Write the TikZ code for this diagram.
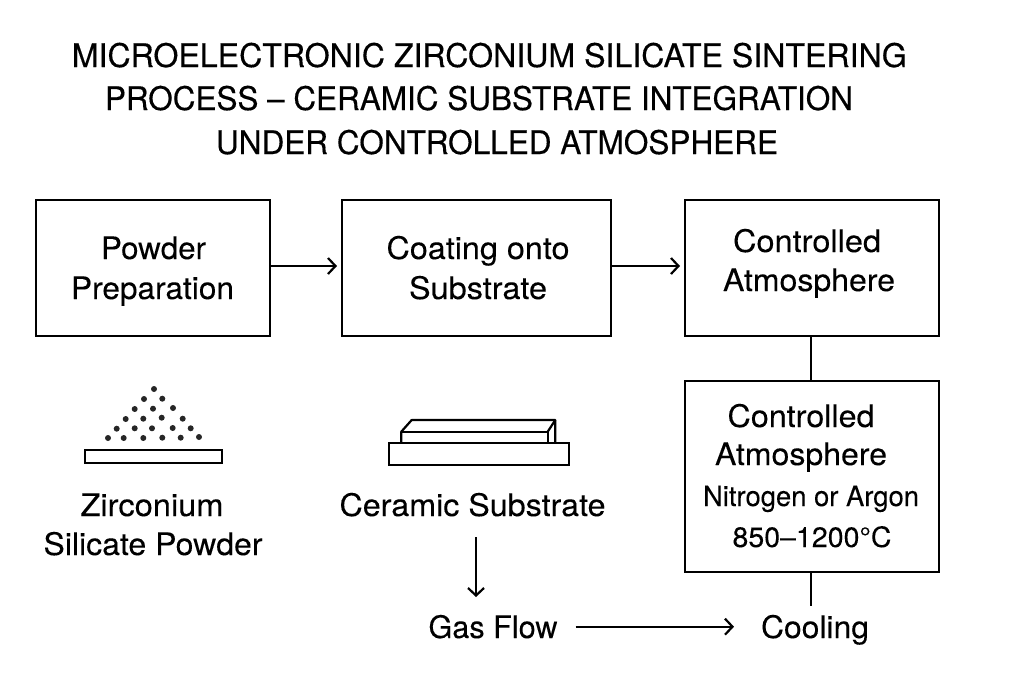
\documentclass[tikz,border=0pt]{standalone}
\usepackage{fontspec}
\usepackage{graphicx}
\setmainfont{TeX Gyre Heros}
\newfontfamily\ttlfont[FakeBold=0.35]{TeX Gyre Heros}
\newfontfamily\labfont[FakeBold=0.1]{TeX Gyre Heros}
\usetikzlibrary{arrows.meta}
\newcommand\fitw[2]{\setbox0\hbox{#2}\pgfmathsetmacro\fitr{#1/\the\wd0}\scalebox{\fitr}[1]{#2}}
\tikzset{
  px/.style={x=1pt,y=-1pt},
  boxn/.style={draw=black,line width=2.4pt,inner sep=0pt,outer sep=0pt,anchor=north west},
  slab/.style={draw=black,line width=2.2pt,fill=white,inner sep=0pt,outer sep=0pt,anchor=north west},
  txt/.style={inner sep=0pt,anchor=base,text=black},
  ttl/.style={txt,font=\ttlfont\fontsize{32.5}{32.5}\selectfont},
  lab/.style={txt,font=\labfont\fontsize{31}{31}\selectfont},
  sml/.style={txt,font=\labfont\fontsize{28}{28}\selectfont},
  conn/.style={draw=black,line width=2.2pt},
  arr/.style={conn,-{Straight Barb[length=7.5pt,width=16pt,line width=2.2pt]}},
  dot/.style={circle,fill=black!85,inner sep=0pt,minimum size=6pt}
}
\begin{document}
\begin{tikzpicture}[px]
\useasboundingbox (0,0) rectangle (1024,683);
\node[ttl] (t1) at (489.3,67) {\fitw{835}{MICROELECTRONIC ZIRCONIUM SILICATE SINTERING}};
\node[ttl] (t2) at (479,110) {\fitw{748}{PROCESS – CERAMIC SUBSTRATE INTEGRATION}};
\node[ttl] (t3) at (497,154) {\fitw{562}{UNDER CONTROLLED ATMOSPHERE}};
\node[boxn,minimum width=234pt,minimum height=136pt] (b1) at (36,200) {};
\node[boxn,minimum width=269pt,minimum height=136pt] (b2) at (342,200) {};
\node[boxn,minimum width=254pt,minimum height=136pt] (b3) at (685,200) {};
\node[boxn,minimum width=254pt,minimum height=191pt] (b4) at (685,381) {};
\node[lab] (a1) at (153.5,259) {\fitw{105}{Powder}};
\node[lab] (a2) at (152.5,299) {\fitw{163}{Preparation}};
\node[lab] (c1) at (478,259) {\fitw{183}{Coating onto}};
\node[lab] (c2) at (478,299) {\fitw{138}{Substrate}};
\node[lab] (d1) at (807,252) {\fitw{148}{Controlled}};
\node[lab] (d2) at (809,291) {\fitw{172}{Atmosphere}};
\node[lab] (e1) at (801,427) {\fitw{147}{Controlled}};
\node[lab] (e2) at (801,465) {\fitw{172}{Atmosphere}};
\node[sml] (e3) at (811,506) {\fitw{216}{Nitrogen or Argon}};
\node[sml] (e4) at (812,547) {\fitw{159}{850–1200°C}};
\node[lab] (z1) at (152,516) {\fitw{143}{Zirconium}};
\node[lab] (z2) at (153,555) {\fitw{219}{Silicate Powder}};
\node[lab] (cs) at (472.5,516) {\fitw{266}{Ceramic Substrate}};
\node[lab] (gf) at (493,638) {\fitw{129}{Gas Flow}};
\node[lab] (co) at (815,638) {\fitw{108}{Cooling}};
\foreach \n/\x/\y in {p1/154/389,p2/144/399,p3/162.3/398.7,p4/134.7/409,p5/153/408.7,p6/173/408,p7/125.7/419,p8/143.3/418.7,p9/161.7/417.7,p10/182.7/418.7,p11/116.7/428.7,p12/134.7/428.3,p13/152/428.3,p14/172.7/428,p15/190.7/428.3,p16/108/438,p17/123.7/438,p18/143.3/438,p19/162.3/437.7,p20/180.7/437.7,p21/199/437}
  \node[dot] (\n) at (\x,\y) {};
\node[slab,minimum width=136.7pt,minimum height=13pt] (pslab) at (85,450) {};
\draw[conn,line join=round] (401.3,442.7) -- (401.3,431.7) -- (411.7,420) -- (555.3,420) -- (555.3,442.7);
\draw[conn,line join=round] (401.3,431.7) -- (547.7,431.7) -- (547.7,442.7);
\draw[conn] (547.7,431.7) -- (555.3,420);
\node[slab,minimum width=179.7pt,minimum height=22pt] (sbase) at (389,442.7) {};
\coordinate (dn) at (476,537);
\coordinate (dntip) at (476,597);
\coordinate (gs) at (575.7,626.7);
\coordinate (ge) at (734,626.7);
\coordinate (ce) at (811,606);
\draw[arr,shorten >=5pt] (b1.east |- 0,266) -- (b2.west |- 0,266);
\draw[arr,shorten >=5pt] (b2.east |- 0,266) -- (b3.west |- 0,266);
\draw[conn] (b3.south -| 811,0) -- (b4.north -| 811,0);
\draw[conn] (b4.south -| 811,0) -- (ce);
\draw[arr] (dn) -- (dntip);
\draw[arr] (gs) -- (ge);
\end{tikzpicture}
\end{document}
